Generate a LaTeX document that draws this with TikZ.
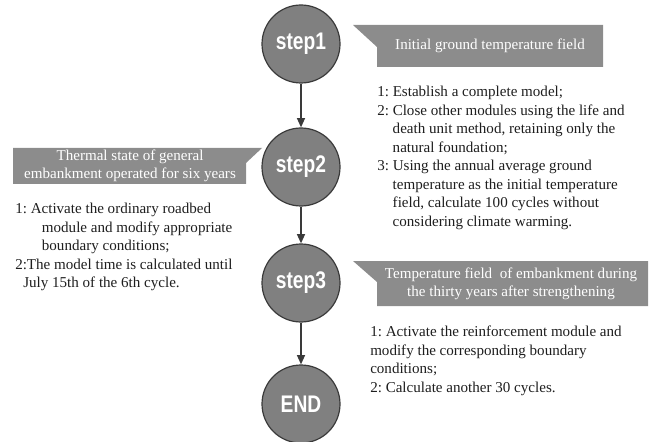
\documentclass[tikz,border=0pt]{standalone}
\usepackage{fontspec}
\setmainfont{Liberation Serif}
\newfontfamily\stepfont{Liberation Sans}
\usepackage{xcolor}
\usepackage{tikz}
\usetikzlibrary{arrows.meta, positioning}
\definecolor{stepgray}{HTML}{808080}
\definecolor{rimgray}{HTML}{3A3A3A}
\definecolor{bannergray}{HTML}{8C8C8C}
\definecolor{inkblack}{HTML}{1E1E1E}
\newcommand{\steplabel}[1]{\scalebox{0.8}[1]{\stepfont\bfseries #1}}
\newcommand{\listindent}{\hspace*{11.6pt}}
\frenchspacing

\begin{document}
\begin{tikzpicture}[x=0.75pt, y=-0.75pt,
    stepnode/.style={circle, draw=rimgray, line width=0.9pt, fill=stepgray, minimum size=58.5pt, inner sep=0pt, text=white, font=\fontsize{18}{18}\selectfont},
    bannertext/.style={text=white, align=center, inner sep=0pt, font=\fontsize{11.3}{13.6}\selectfont},
    listtext/.style={anchor=north west, align=left, inner sep=0pt, text=inkblack, font=\fontsize{11.3}{13.9}\selectfont},
    flow/.style={-{Triangle[length=7pt, width=6pt]}, line width=1.1pt, draw=rimgray}]

    \useasboundingbox (0,0) rectangle (653,442);

    % Steps down the middle
    \node[stepnode] (step1) at (301,44) {\steplabel{step1}};
    \node[stepnode] (step2) at (301,167) {\steplabel{step2}};
    \node[stepnode] (step3) at (301,283) {\steplabel{step3}};
    \node[stepnode] (stepend) at (301,404) {\steplabel{END}};

    \draw[flow] (step1) -- (step2);
    \draw[flow] (step2) -- (step3);
    \draw[flow] (step3) -- (stepend);

    % Step 1: banner on the right
    \fill[bannergray] (353,25) -- (603,25) -- (603,67) -- (377,67) -- (377,47) -- cycle;
    \node[bannertext] (title1) at (490,46) {Initial ground temperature field};
    \node[listtext] (list1) at (377,86) {1: Establish a complete model;\\
        2: Close other modules using the life and\\
        \listindent death unit method, retaining only the\\
        \listindent natural foundation;\\
        3: Using the annual average ground\\
        \listindent temperature as the initial temperature\\
        \listindent field, calculate 100 cycles without\\
        \listindent considering climate warming.};

    % Step 2: banner on the left
    \fill[bannergray] (13,148) -- (262,148) -- (246,163) -- (246,184) -- (13,184) -- cycle;
    \node[bannertext] (title2) at (130,166) {Thermal state of general\\embankment operated for six years};
    \node[listtext] (list2) at (15,203) {1: Activate the ordinary roadbed\\
        \hspace*{20pt}module and modify appropriate\\
        \hspace*{20pt}boundary conditions;\\
        2:The model time is calculated until\\
        \hspace*{6pt}July 15th of the 6th cycle.};

    % Step 3: banner on the right
    \fill[bannergray] (353,261) -- (648,261) -- (648,306) -- (377,306) -- (377,282) -- cycle;
    \node[bannertext] (title3) at (511,284) {Temperature field~ of embankment during\\the thirty years after strengthening};
    \node[listtext] (list3) at (370,326) {1: Activate the reinforcement module and\\
        modify the corresponding boundary\\
        conditions;\\
        2: Calculate another 30 cycles.};

\end{tikzpicture}
\end{document}
